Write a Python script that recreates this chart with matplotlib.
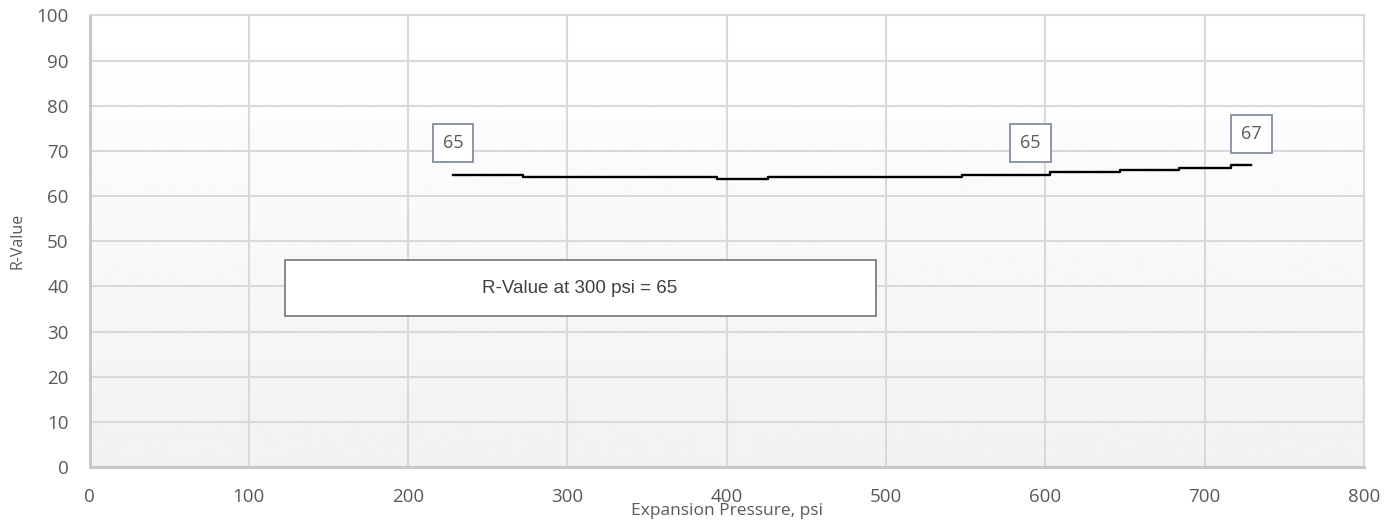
import numpy as np
import matplotlib.pyplot as plt
from matplotlib.patches import Rectangle

# step breakpoints of the R-value curve (psi) and the level on each step
x_pts = [228, 272, 393.7, 410, 425.6, 547.4, 602.6, 647, 684, 716.7, 729]
y_lvl = [64.7, 64.2, 63.7, 63.8, 64.2, 64.7, 65.3, 65.8, 66.3, 66.9, 66.9]

# data labels
lbl_x = [228, 590.6, 729.3]
lbl_y = [71.8, 71.8, 73.8]
lbl_txt = ['65', '65', '67']

note_text = 'R-Value at 300 psi = 65'

grey_txt = '#595959'
grid_col = '#d9d9d9'

fig = plt.figure(figsize=(13.95, 5.29), dpi=100)
ax = fig.add_axes([0.0642, 0.1172, 0.9136, 0.8535])

# light vertical gradient in the plot area (white on top, grey at bottom)
grad = np.linspace(1.0, 0.949, 256).reshape(-1, 1)
ax.imshow(grad, extent=[0, 800, 0, 100], aspect='auto', cmap='gray',
          vmin=0, vmax=1, zorder=0, origin='upper')

ax.set_xlim(0, 800)
ax.set_ylim(0, 100)
ax.set_xticks(np.arange(0, 801, 100))
ax.set_yticks(np.arange(0, 101, 10))
ax.grid(True, color=grid_col, lw=1.5, zorder=1)
ax.set_axisbelow(True)
for s in ['top', 'right']:
    ax.spines[s].set_color(grid_col)
    ax.spines[s].set_linewidth(1.5)
for s in ['left', 'bottom']:
    ax.spines[s].set_color('#c8c8c8')
    ax.spines[s].set_linewidth(2.2)
ax.tick_params(length=0, colors=grey_txt, labelsize=13.5)
ax.tick_params(axis='x', pad=15)
ax.tick_params(axis='y', pad=15)
for t in ax.get_xticklabels() + ax.get_yticklabels():
    t.set_fontfamily('Open Sans')

ax.step(x_pts, y_lvl, where='post', color='black', lw=1.7, zorder=3)

for x, y, t in zip(lbl_x, lbl_y, lbl_txt):
    ax.text(x, y, t, ha='center', va='center', fontsize=13, color=grey_txt,
            family='Open Sans', zorder=4,
            bbox=dict(boxstyle='square,pad=0.55', fc='white', ec='#8c96a6', lw=1.4))

ax.add_patch(Rectangle((122.8, 33.4), 370.7, 12.45, fc='white', ec='#7f7f7f',
                       lw=1.3, zorder=4))
ax.text(307.7, 39.6, note_text, ha='center', va='center', fontsize=13.5,
        color='#404040', family='Liberation Sans', zorder=5)

ax.set_xlabel('Expansion Pressure, psi', fontsize=12.5, color=grey_txt,
              family='Open Sans', labelpad=-2)
ax.set_ylabel('R-Value', fontsize=11.5, color=grey_txt, family='Open Sans',
              labelpad=8)

fig.savefig('out.png', dpi=100)
